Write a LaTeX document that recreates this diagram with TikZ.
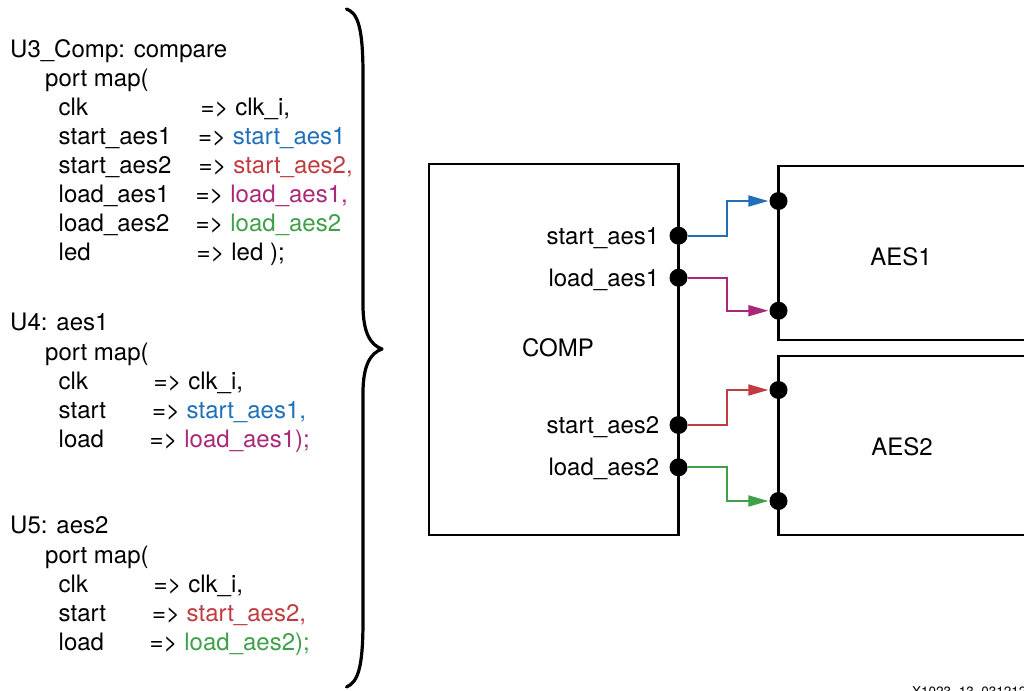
\documentclass[tikz,border=0pt]{standalone}
\usepackage{fontspec}
\setmainfont{TeX Gyre Heros}
\usetikzlibrary{arrows.meta}

\definecolor{sigblue}{RGB}{31,111,186}
\definecolor{sigred}{RGB}{192,60,64}
\definecolor{sigmag}{RGB}{170,40,120}
\definecolor{siggreen}{RGB}{62,160,72}

\tikzset{
  code/.style={anchor=base west, inner sep=0pt, font=\fontsize{24}{28}\selectfont},
  plbl/.style={anchor=base east, inner sep=0pt, font=\fontsize{24}{28}\selectfont},
  blab/.style={anchor=center, inner sep=0pt, font=\fontsize{24}{28}\selectfont},
  block/.style={draw, line width=2.2pt, inner sep=0pt},
  port/.style={circle, fill=black, minimum size=18pt, inner sep=0pt},
  wire/.style={line width=2pt, -{Triangle[length=20pt,width=11pt]}, shorten >=1pt},
  brace/.style={line width=3.2pt, line cap=round, line join=round},
}

\begin{document}
\begin{tikzpicture}[x=1pt, y=-1pt]
\useasboundingbox (0,0) rectangle (1024,690);

% ---- VHDL port maps ----
\node[code] (u3)   at (10,57.7)   {U3\_Comp: compare};
\node[code] (u3pm) at (45,87)     {port map(};
\node[code] (u3a)  at (58.5,115.5) {clk};
\node[code] (u3av) at (200.5,115.5) {=> clk\_i,};
\node[code] (u3b)  at (58.5,144.4) {start\_aes1};
\node[code] (u3bv) at (198,144.4) {=> \textcolor{sigblue}{start\_aes1}};
\node[code] (u3c)  at (58.5,173.3) {start\_aes2};
\node[code] (u3cv) at (198.5,173.3) {=> \textcolor{sigred}{start\_aes2,}};
\node[code] (u3d)  at (58.5,202.2) {load\_aes1};
\node[code] (u3dv) at (195.5,202.2) {=> \textcolor{sigmag}{load\_aes1,}};
\node[code] (u3e)  at (58.5,231.1) {load\_aes2};
\node[code] (u3ev) at (195.5,231.1) {=> \textcolor{siggreen}{load\_aes2}};
\node[code] (u3f)  at (58.5,260)   {led};
\node[code] (u3fv) at (196.5,260)  {=> led );};

\node[code] (u4)   at (10,330.5)  {U4: aes1};
\node[code] (u4pm) at (45,360)    {port map(};
\node[code] (u4a)  at (58.5,389)  {clk};
\node[code] (u4av) at (153.5,389) {=> clk\_i,};
\node[code] (u4b)  at (58.5,418)  {start};
\node[code] (u4bv) at (151.8,418) {=> \textcolor{sigblue}{start\_aes1,}};
\node[code] (u4c)  at (58.5,447)  {load};
\node[code] (u4cv) at (149.5,447) {=> \textcolor{sigmag}{load\_aes1);}};

\node[code] (u5)   at (10,533.5)  {U5: aes2};
\node[code] (u5pm) at (45,563)    {port map(};
\node[code] (u5a)  at (58.5,592.5) {clk};
\node[code] (u5av) at (153.5,592.5) {=> clk\_i,};
\node[code] (u5b)  at (58.5,621.5) {start};
\node[code] (u5bv) at (151.8,621.5) {=> \textcolor{sigred}{start\_aes2,}};
\node[code] (u5c)  at (58.5,650.5) {load};
\node[code] (u5cv) at (149.5,650.5) {=> \textcolor{siggreen}{load\_aes2);}};

% ---- curly brace ----
\draw[brace] (346.5,9) .. controls (358,13) and (363,28) .. (363,75)
  -- (363,305) .. controls (363,334) and (371,345) .. (382,349)
  .. controls (371,353) and (363,364) .. (363,393)
  -- (363,620) .. controls (363,668) and (358,682) .. (346.5,687);

% ---- blocks ----
\node[block, minimum width=249.2pt, minimum height=370.7pt] (comp) at (553.9,349.6) {};
\node[block, minimum width=248.5pt, minimum height=174.3pt] (aes1) at (902.75,252.85) {};
\node[block, minimum width=248.5pt, minimum height=179pt]   (aes2) at (902.75,445.5) {};

\node[blab] (compl) at (558,348)   {COMP};
\node[blab] (aes1l) at (901,257)   {AES1};
\node[blab] (aes2l) at (902,446.7) {AES2};

% ---- ports ----
\node[port] (pc1) at (678.5,235.7) {};
\node[port] (pc2) at (678.5,277.7) {};
\node[port] (pc3) at (678.5,425)   {};
\node[port] (pc4) at (678.5,467.3) {};
\node[port] (pa1) at (778.5,201)   {};
\node[port] (pa2) at (778.5,310.7) {};
\node[port] (pb1) at (778.5,390)   {};
\node[port] (pb2) at (778.5,501)   {};

\node[plbl] (lc1) at (659.5,244.3) {start\_aes1};
\node[plbl] (lc2) at (659.5,286.3) {load\_aes1};
\node[plbl] (lc3) at (659.5,433.6) {start\_aes2};
\node[plbl] (lc4) at (659.5,475.9) {load\_aes2};

% ---- signal wires ----
\draw[wire, sigblue]   (pc1.east) -- ++(39,0) |- (pa1.west);
\draw[wire, sigmag]    (pc2.east) -- ++(39,0) |- (pa2.west);
\draw[wire, sigred]    (pc3.east) -- ++(39,0) |- (pb1.west);
\draw[wire, siggreen]  (pc4.east) -- ++(39,0) |- (pb2.west);

% ---- figure id ----
\node[anchor=base west, inner sep=0pt, font=\fontsize{13.5}{16}\selectfont] (figid) at (912,696.7) {X1023\_13\_031212};
\end{tikzpicture}
\end{document}
